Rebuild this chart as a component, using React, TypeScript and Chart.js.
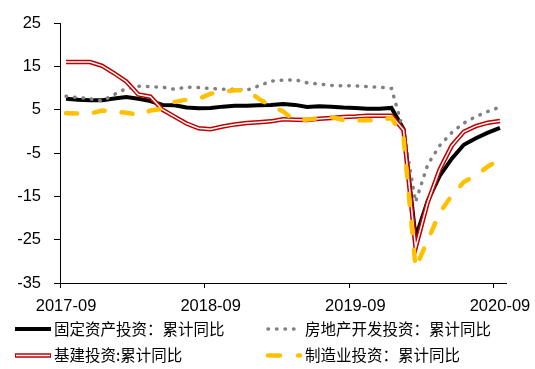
import React, { useEffect, useRef } from "react";
import { Chart, registerables } from "chart.js";

Chart.register(...registerables);

// ---------- data ----------
const months: string[] = [
  "2017-09", "2017-10", "2017-11", "2017-12",
  "2018-01", "2018-02", "2018-03", "2018-04", "2018-05", "2018-06",
  "2018-07", "2018-08", "2018-09", "2018-10", "2018-11", "2018-12",
  "2019-01", "2019-02", "2019-03", "2019-04", "2019-05", "2019-06",
  "2019-07", "2019-08", "2019-09", "2019-10", "2019-11", "2019-12",
  "2020-01", "2020-02", "2020-03", "2020-04", "2020-05", "2020-06",
  "2020-07", "2020-08", "2020-09",
];

const fixedAsset: number[] = [
  7.5, 7.3, 7.2, 7.2,
  7.6, 7.9, 7.5, 7.0, 6.1, 6.0, 5.5, 5.3, 5.4, 5.7, 5.9, 5.9,
  6.0, 6.1, 6.3, 6.1, 5.6, 5.8, 5.7, 5.5, 5.4, 5.2, 5.2, 5.4,
  0.5, -24.5, -16.1, -10.3, -6.3, -3.1, -1.6, -0.3, 0.8,
];

const realEstate: number[] = [
  8.1, 7.8, 7.5, 7.0,
  8.5, 9.9, 10.4, 10.3, 10.2, 9.7, 10.2, 10.1, 9.9, 9.7, 9.7, 9.5,
  10.5, 11.6, 11.8, 11.9, 11.2, 10.9, 10.6, 10.5, 10.5, 10.3, 10.2, 9.9,
  0.0, -16.3, -7.7, -3.3, -0.3, 1.9, 3.4, 4.6, 5.6,
];

const infrastructure: number[] = [
  16.0, 16.0, 16.0, 15.1,
  13.4, 11.5, 8.5, 8.0, 5.0, 3.4, 1.8, 0.7, 0.5, 1.1, 1.6, 1.9,
  2.1, 2.3, 2.8, 2.7, 2.6, 2.9, 3.1, 3.3, 3.4, 3.6, 3.6, 3.6,
  0.3, -26.9, -16.4, -8.8, -3.3, -0.1, 1.2, 2.0, 2.4,
];

const manufacturing: number[] = [
  4.2, 4.1, 4.1, 4.8,
  4.5, 4.3, 3.8, 4.8, 5.2, 6.8, 7.3, 7.5, 8.7, 9.1, 9.5, 9.5,
  7.5, 5.9, 4.6, 2.5, 2.7, 3.0, 3.3, 2.6, 2.5, 2.6, 2.5, 3.1,
  -1.5, -31.5, -25.2, -18.8, -14.8, -11.7, -10.2, -8.1, -6.5,
];

const xTickLabels: string[] = ["2017-09", "2018-09", "2019-09", "2020-09"];
const yMin = -35;
const yMax = 25;
const yStep = 10;

const seriesNames: string[] = [
  "固定资产投资：累计同比",
  "房地产开发投资：累计同比",
  "基建投资:累计同比",
  "制造业投资：累计同比",
];

// ---------- styles ----------
const BLACK = "#000000";
const GREY = "#808080";
const RED = "#C00000";
const YELLOW = "#FFC000";
const TICK_FONT = { family: "'Liberation Sans', Arial, sans-serif", size: 16.5 };
const LEGEND_FONT = "15.5px 'Noto Sans CJK SC', sans-serif";

const legendPlugin = {
  id: "customLegend",
  afterDraw(chart: any) {
    const ctx: CanvasRenderingContext2D = chart.ctx;
    ctx.save();
    const row1 = 329;
    const row2 = 355.5;
    const line = (x1: number, y: number, x2: number) => {
      ctx.beginPath();
      ctx.moveTo(x1, y);
      ctx.lineTo(x2, y);
      ctx.stroke();
    };
    // black
    ctx.setLineDash([]);
    ctx.lineCap = "butt";
    ctx.strokeStyle = BLACK;
    ctx.lineWidth = 4;
    line(15, row1, 51, row1);
    // red double
    ctx.strokeStyle = RED;
    ctx.lineWidth = 4.5;
    line(15, row2, 51, row2);
    ctx.strokeStyle = "#ffffff";
    ctx.lineWidth = 1.5;
    line(16, row2, 50, row2);
    // grey dotted
    ctx.strokeStyle = GREY;
    ctx.lineWidth = 3.5;
    ctx.lineCap = "round";
    ctx.setLineDash([0.5, 8]);
    line(268, row1, 296, row1);
    // yellow dashed
    ctx.strokeStyle = YELLOW;
    ctx.lineWidth = 4.5;
    ctx.setLineDash([12, 18]);
    line(268, row2, 300, row2);
    ctx.setLineDash([]);
    // texts
    ctx.fillStyle = BLACK;
    ctx.font = LEGEND_FONT;
    ctx.textBaseline = "middle";
    ctx.textAlign = "left";
    ctx.fillText(seriesNames[0], 54, row1);
    ctx.fillText(seriesNames[1], 305, row1);
    ctx.fillText(seriesNames[2], 54, row2);
    ctx.fillText(seriesNames[3], 305, row2);
    ctx.restore();
  },
};

export default function App() {
  const ref = useRef<HTMLCanvasElement | null>(null);

  useEffect(() => {
    if (!ref.current) return;
    const chart = new Chart(ref.current, {
      type: "line",
      data: {
        labels: months,
        datasets: [
          {
            label: seriesNames[0],
            data: fixedAsset,
            borderColor: BLACK,
            borderWidth: 4,
            pointRadius: 0,
            tension: 0,
            order: 5,
          },
          {
            label: seriesNames[1],
            data: realEstate,
            borderColor: GREY,
            borderWidth: 3.5,
            borderDash: [0.5, 8],
            borderCapStyle: "round",
            pointRadius: 0,
            tension: 0,
            order: 4,
          },
          {
            label: seriesNames[2],
            data: infrastructure,
            borderColor: RED,
            borderWidth: 4.5,
            pointRadius: 0,
            tension: 0,
            order: 3,
          },
          {
            label: seriesNames[2] + "-inner",
            data: infrastructure,
            borderColor: "#ffffff",
            borderWidth: 1.5,
            pointRadius: 0,
            tension: 0,
            order: 2,
          },
          {
            label: seriesNames[3],
            data: manufacturing,
            borderColor: YELLOW,
            borderWidth: 4.5,
            borderDash: [11, 17],
            borderCapStyle: "round",
            pointRadius: 0,
            tension: 0,
            order: 1,
          },
        ],
      },
      options: {
        responsive: false,
        animation: false,
        devicePixelRatio: 1,
        layout: { padding: { left: 0, right: 29, top: 23, bottom: 0 } },
        plugins: {
          legend: { display: false },
          tooltip: { enabled: false },
        },
        scales: {
          x: {
            type: "category",
            offset: true,
            grid: {
              offset: true,
              drawOnChartArea: false,
              drawTicks: true,
              tickLength: 5,
              tickColor: (c: any) => (typeof c.index === "number" && c.index % 12 === 0 ? BLACK : "rgba(0,0,0,0)"),
            },
            border: { display: true, color: BLACK, width: 1 },
            ticks: {
              autoSkip: false,
              maxRotation: 0,
              minRotation: 0,
              padding: 9,
              color: BLACK,
              font: TICK_FONT,
              callback: (_v: any, i: number) => (i % 12 === 0 ? xTickLabels[i / 12] : ""),
            },
            afterFit: (s: any) => {
              s.height = 86;
              s.paddingLeft = 0;
              s.paddingRight = 0;
            },
          },
          y: {
            min: yMin,
            max: yMax,
            grid: {
              drawOnChartArea: false,
              drawTicks: true,
              tickLength: 6,
              tickColor: BLACK,
            },
            border: { display: true, color: BLACK, width: 1 },
            ticks: {
              stepSize: yStep,
              padding: 13,
              color: BLACK,
              font: TICK_FONT,
            },
            afterFit: (s: any) => {
              s.width = 60;
            },
          },
        },
      },
      plugins: [legendPlugin],
    } as any);
    return () => chart.destroy();
  }, []);

  return (
    <div style={{ position: "absolute", left: 0, top: 0, width: 535, height: 369, background: "#fff" }}>
      <canvas ref={ref} width={535} height={369} style={{ display: "block" }} />
    </div>
  );
}
